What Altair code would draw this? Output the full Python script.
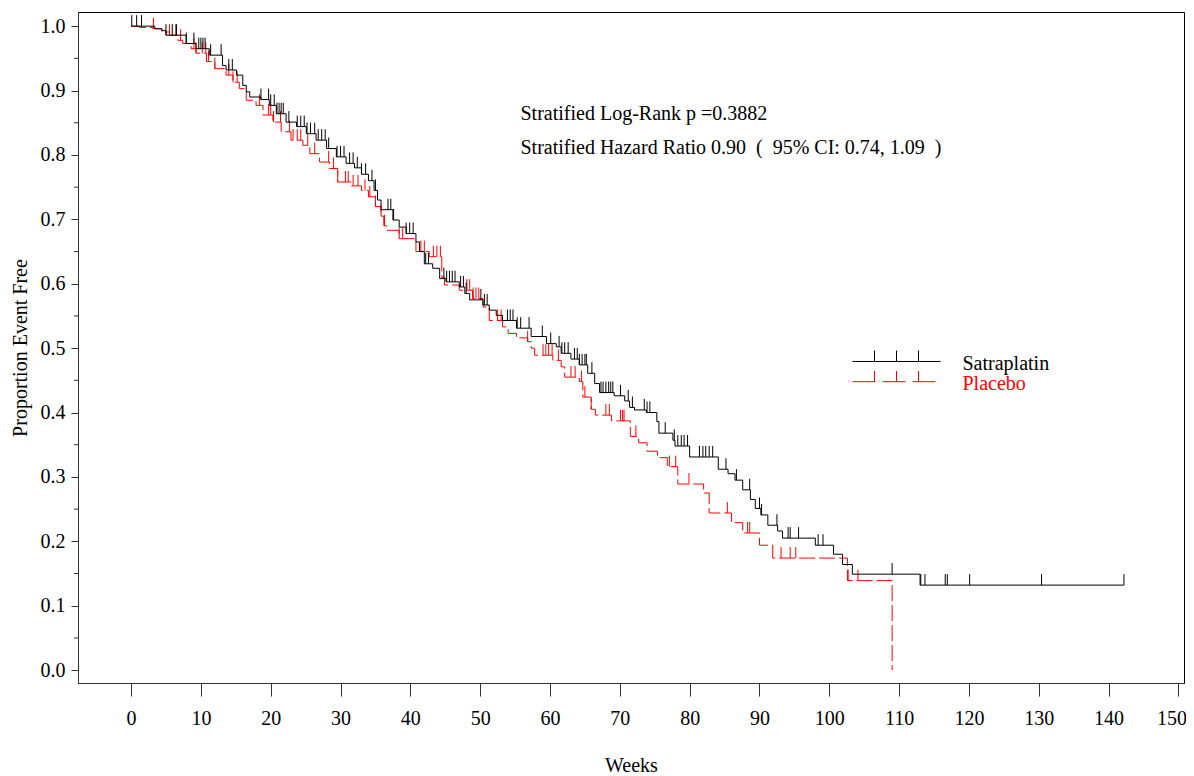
import altair as alt
import numpy as np
import pandas as pd

# ---------------- data ----------------
sat_weeks = [0, 3.4, 4.4, 5.0, 7.9, 9.3, 11.2, 13.1, 13.6, 15.1, 16.0, 16.5, 17.0, 18.6,
             19.8, 20.8, 22.2, 23.7, 25.1, 26.5, 28.0, 29.4, 30.8, 32.0, 33.0, 34.0, 34.8,
             35.3, 35.8, 37.5, 38.4, 39.4, 40.8, 41.3, 42.0, 43.2, 44.2, 45.1, 47.0, 47.8,
             48.5, 50.4, 51.3, 52.3, 53.2, 55.2, 57.3, 59.5, 60.9, 61.6, 63.0, 64.2, 65.4,
             66.4, 67.1, 69.2, 70.7, 71.4, 72.1, 73.8, 75.3, 75.6, 77.6, 77.9, 80.0, 84.1,
             85.5, 86.5, 87.6, 88.7, 89.4, 90.2, 91.2, 92.6, 93.3, 98.0, 100.6, 101.9,
             103.3, 113.0, 142.2]
sat_surv = [1.0, 0.996, 0.993, 0.986, 0.973, 0.965, 0.955, 0.939, 0.932, 0.924, 0.908,
            0.898, 0.890, 0.886, 0.877, 0.864, 0.851, 0.844, 0.833, 0.823, 0.810, 0.797,
            0.787, 0.780, 0.770, 0.760, 0.745, 0.730, 0.715, 0.699, 0.688, 0.678, 0.665,
            0.650, 0.631, 0.624, 0.608, 0.603, 0.595, 0.585, 0.575, 0.567, 0.559, 0.551,
            0.543, 0.531, 0.518, 0.507, 0.502, 0.492, 0.483, 0.474, 0.461, 0.445, 0.431,
            0.426, 0.418, 0.408, 0.404, 0.400, 0.386, 0.368, 0.357, 0.348, 0.331, 0.312,
            0.305, 0.295, 0.280, 0.265, 0.251, 0.241, 0.225, 0.216, 0.205, 0.194, 0.180,
            0.164, 0.149, 0.132, 0.132]

pla_weeks = [0, 1.2, 3.1, 4.4, 5.5, 6.7, 7.4, 8.6, 9.3, 10.8, 12.0, 13.6, 14.6, 15.5, 16.5,
             17.9, 18.9, 20.3, 21.5, 22.9, 24.6, 25.6, 27.0, 28.4, 29.6, 31.5, 33.0, 34.0,
             35.0, 35.8, 36.2, 36.6, 38.4, 40.8, 42.7, 44.5, 44.9, 47.0, 48.9, 50.4, 51.3,
             53.2, 54.0, 55.2, 56.8, 57.3, 57.8, 60.4, 61.6, 62.1, 64.2, 64.7, 65.9, 66.5,
             68.8, 71.5, 72.7, 73.9, 75.4, 76.8, 78.3, 82.0, 82.8, 86.0, 87.6, 90.0, 91.9,
             102.6, 109.0]
pla_surv = [1.0, 0.998, 0.996, 0.991, 0.986, 0.978, 0.973, 0.965, 0.958, 0.945, 0.934,
            0.924, 0.913, 0.903, 0.885, 0.877, 0.862, 0.851, 0.836, 0.823, 0.815, 0.802,
            0.789, 0.779, 0.758, 0.752, 0.745, 0.735, 0.720, 0.705, 0.690, 0.683, 0.670,
            0.650, 0.642, 0.610, 0.598, 0.590, 0.577, 0.564, 0.543, 0.533, 0.523, 0.516,
            0.510, 0.500, 0.489, 0.481, 0.471, 0.455, 0.448, 0.424, 0.405, 0.396, 0.387,
            0.363, 0.353, 0.340, 0.330, 0.316, 0.289, 0.275, 0.244, 0.229, 0.213, 0.194,
            0.174, 0.139, 0.0]

sat_censored = [0.1, 0.8, 1.5, 5.0, 5.9, 6.5, 7.9, 9.0, 9.7, 10.0, 10.3, 10.6, 11.4, 12.9,
                14.0, 14.5, 18.6, 19.7, 20.0, 20.5, 20.9, 21.2, 21.5, 21.8, 22.6, 23.8,
                24.3, 24.8, 25.2, 25.7, 26.3, 26.8, 27.3, 27.8, 28.3, 29.5, 30.0, 30.5,
                31.3, 31.8, 32.4, 33.0, 33.6, 34.5, 35.0, 36.8, 37.2, 37.6, 39.4, 39.9,
                40.4, 42.2, 42.6, 44.8, 45.2, 45.6, 46.0, 46.4, 47.2, 47.6, 48.0, 50.1,
                50.6, 51.0, 53.9, 54.3, 54.7, 55.3, 55.8, 57.0, 58.9, 60.1, 61.3, 61.7,
                62.1, 62.6, 63.5, 63.9, 64.2, 64.6, 65.0, 65.2, 66.0, 67.3, 67.6, 68.0,
                68.4, 68.7, 69.0, 70.1, 71.2, 71.8, 73.5, 73.9, 74.3, 76.5, 77.8, 78.3,
                78.8, 79.2, 79.7, 81.4, 81.9, 82.3, 82.8, 83.3, 85.2, 86.7, 88.6, 90.0,
                90.3, 92.5, 94.1, 94.4, 95.6, 98.4, 99.1, 109.0, 113.1, 113.7, 116.6,
                116.9, 120.1, 130.4, 142.2]
pla_censored = [3.2, 5.5, 6.4, 7.1, 9.0, 9.3, 10.2, 10.7, 11.1, 12.0, 14.0, 14.6, 15.2,
                18.4, 19.7, 20.0, 20.4, 21.4, 22.7, 23.2, 23.8, 24.3, 25.3, 26.3, 28.3,
                29.0, 29.6, 30.7, 31.1, 31.8, 32.5, 33.5, 34.2, 35.0, 35.8, 36.3, 38.4,
                38.9, 41.5, 42.0, 43.3, 43.8, 44.3, 48.1, 48.5, 49.0, 49.4, 49.8, 52.5,
                53.0, 56.8, 59.0, 59.4, 59.8, 60.3, 61.2, 63.0, 63.6, 64.5, 65.0, 65.9,
                68.0, 68.5, 70.1, 70.4, 70.6, 72.3, 77.1, 78.0, 79.9, 85.4, 88.3, 88.6,
                93.1, 94.4, 95.2, 102.7, 104.1]

x_ticks = list(range(0, 151, 10))
y_ticks = [round(i * 0.1, 1) for i in range(11)]
y_minor = [round(0.05 + i * 0.1, 2) for i in range(10)]

NB = "\u00a0"
annotation_lines = ["Stratified Log-Rank p =0.3882",
                    f"Stratified Hazard Ratio 0.90{NB} ({NB} 95% CI: 0.74, 1.09{NB} )"]
groups = ["Satraplatin", "Placebo"]

# ---------------- tables ----------------
def censor_table(weeks, surv, cens):
    w = np.array(weeks)
    s = np.array(surv)
    idx = np.searchsorted(w, np.array(cens), side="right") - 1
    return pd.DataFrame({"week": cens, "surv": s[idx]})

sat_line = pd.DataFrame({"week": sat_weeks, "surv": sat_surv})
pla_line = pd.DataFrame({"week": pla_weeks, "surv": pla_surv})
sat_cens = censor_table(sat_weeks, sat_surv, sat_censored)
pla_cens = censor_table(pla_weeks, pla_surv, pla_censored)

FONT = "Liberation Serif"
FS = 20
W, H = 1106, 671
xscale = alt.Scale(domain=[-7.6, 150.8], nice=False, zero=False)
yscale = alt.Scale(domain=[-0.02, 1.022], nice=False, zero=False)

x_axis = alt.Axis(values=x_ticks, tickSize=13, labelPadding=12, title="Weeks",
                  labelOffset=alt.condition("datum.value == 150", alt.value(-7), alt.value(0)),
                  titleY=82, titleBaseline="middle", grid=False)
y_axis = alt.Axis(values=y_ticks, format=".1f", tickSize=7, labelPadding=6,
                  title="Proportion Event Free", titleX=-58, titleY=H / 2,
                  titleBaseline="middle", titleAngle=-90, grid=False)

X = lambda: alt.X("week:Q", scale=xscale, axis=x_axis)
Y = lambda: alt.Y("surv:Q", scale=yscale, axis=y_axis)

TICK_SHAPE = "M0,0L0,-1"
TICK_SIZE = 484  # 11px tall censor tick

pla_curve = alt.Chart(pla_line).mark_line(
    interpolate="step-after", color="#FF0000", strokeWidth=1, strokeDash=[16, 4]
).encode(x=X(), y=Y())
pla_ticks = alt.Chart(pla_cens).mark_point(
    shape=TICK_SHAPE, size=TICK_SIZE, filled=False, color="#FF0000", strokeWidth=1, opacity=1
).encode(x=X(), y=Y())
sat_curve = alt.Chart(sat_line).mark_line(
    interpolate="step-after", color="black", strokeWidth=1
).encode(x=X(), y=Y())
sat_ticks = alt.Chart(sat_cens).mark_point(
    shape=TICK_SHAPE, size=TICK_SIZE, filled=False, color="black", strokeWidth=1, opacity=1
).encode(x=X(), y=Y())

minor = alt.Chart(pd.DataFrame({"surv": y_minor})).mark_rule(color="#333", strokeWidth=1).encode(
    y=Y(), x=alt.value(-4), x2=alt.value(0)
)

one = pd.DataFrame({"a": [0]})
texts = [
    alt.Chart(one).mark_text(align="left", baseline="middle", font=FONT, fontSize=FS,
                             color="black", text=annotation_lines[0]).encode(
        x=alt.value(442.5), y=alt.value(102)),
    alt.Chart(one).mark_text(align="left", baseline="middle", font=FONT, fontSize=FS,
                             color="black", text=annotation_lines[1]).encode(
        x=alt.value(442.5), y=alt.value(136)),
]

# legend (drawn by hand to mimic censor-tick legend)
leg = []
leg.append(alt.Chart(one).mark_rule(color="black", strokeWidth=1).encode(
    x=alt.value(774.5), x2=alt.value(862.5), y=alt.value(349.5)))
leg.append(alt.Chart(one).mark_rule(color="#FF0000", strokeWidth=1, strokeDash=[23, 7]).encode(
    x=alt.value(774.5), x2=alt.value(859.5), y=alt.value(369.7)))
for tx in [796.5, 818.5, 840.5]:
    leg.append(alt.Chart(one).mark_rule(color="black", strokeWidth=1).encode(
        x=alt.value(tx), y=alt.value(338.5), y2=alt.value(349.5)))
    leg.append(alt.Chart(one).mark_rule(color="#FF0000", strokeWidth=1).encode(
        x=alt.value(tx), y=alt.value(359), y2=alt.value(369.7)))
leg.append(alt.Chart(one).mark_text(align="left", baseline="middle", font=FONT, fontSize=FS,
                                    color="black", text=groups[0]).encode(
    x=alt.value(884.5), y=alt.value(352)))
leg.append(alt.Chart(one).mark_text(align="left", baseline="middle", font=FONT, fontSize=FS,
                                    color="#FF0000", text=groups[1]).encode(
    x=alt.value(884.5), y=alt.value(372)))

chart = alt.layer(pla_curve, pla_ticks, sat_curve, sat_ticks, minor, *texts, *leg).properties(
    width=W, height=H,
    padding={"left": 70, "top": 4, "right": 2, "bottom": 92},
    autosize="none",
).configure_view(
    stroke="black", strokeWidth=1
).configure_axis(
    labelFont=FONT, labelFontSize=FS, labelColor="black",
    titleFont=FONT, titleFontSize=FS, titleFontWeight="normal", titleColor="black",
    tickColor="#333", domainColor="#333", tickWidth=1, domainWidth=1,
)

chart.save("out.html", embed_options={"renderer": "svg", "actions": False})
